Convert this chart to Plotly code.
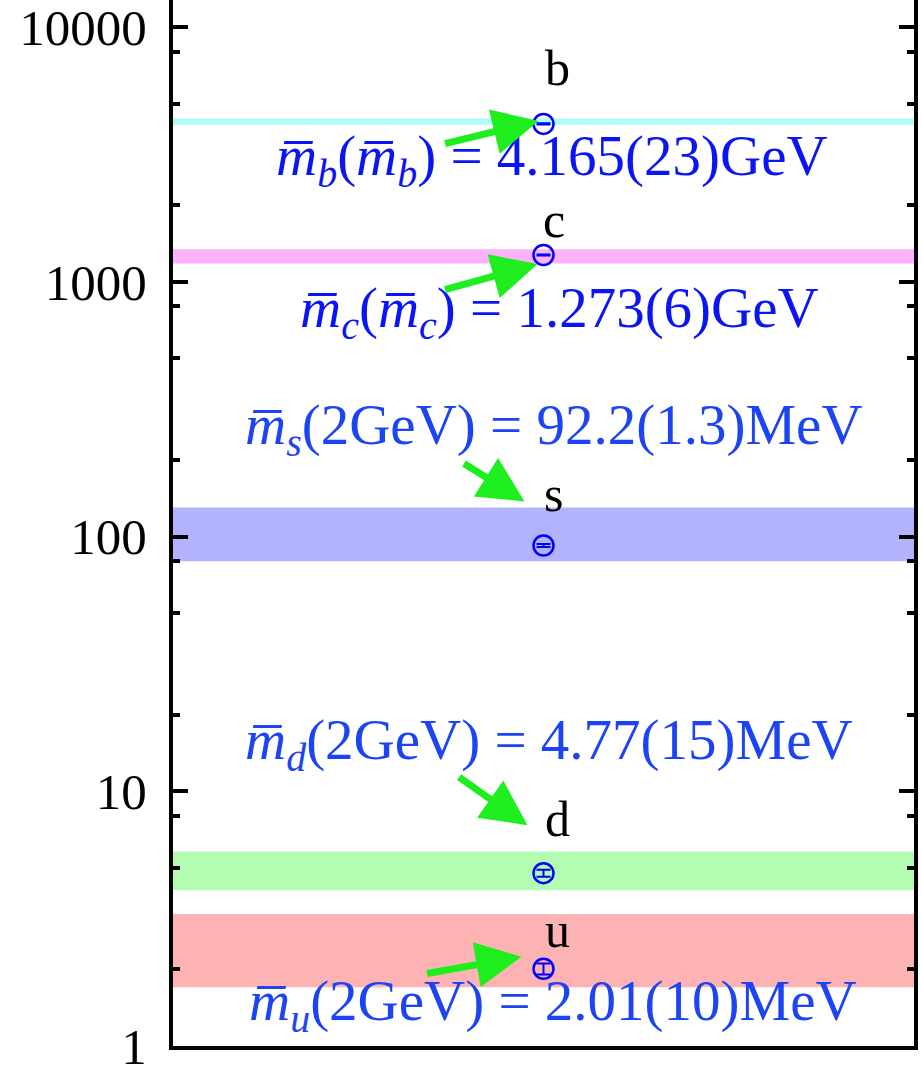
import numpy as np
import plotly.graph_objects as go

quarks = ["b", "c", "s", "d", "u"]
mass = [4165, 1273, 92.2, 4.77, 2.01]          # MeV
mass_err = [23, 6, 1.3, 0.15, 0.10]
band_lo = [4130, 1180, 80, 4.1, 1.7]
band_hi = [4370, 1340, 130, 5.8, 3.3]
band_colors = ["#aefcfc", "#fdb2fd", "#b3b3fd", "#b3fdb3", "#fdb3b3"]
texts = [
    "<i>m&#773;</i><sub><i>b</i></sub>(<i>m&#773;</i><sub><i>b</i></sub>) = 4.165(23)GeV",
    "<i>m&#773;</i><sub><i>c</i></sub>(<i>m&#773;</i><sub><i>c</i></sub>) = 1.273(6)GeV",
    "<i>m&#773;</i><sub><i>s</i></sub>(2GeV) = 92.2(1.3)MeV",
    "<i>m&#773;</i><sub><i>d</i></sub>(2GeV) = 4.77(15)MeV",
    "<i>m&#773;</i><sub><i>u</i></sub>(2GeV) = 2.01(10)MeV",
]
text_colors = ["#0a14f5", "#0a14f5", "#1c44f5", "#1c44f5", "#1c44f5"]
# label offsets (px) relative to the data point
label_shift = [(14, 56), (10, 35), (10, 51), (14, 54), (14, 39)]
text_shift = [(8, -36), (16, -57), (10, 116), (5, 129), (9, -36)]
arrow_tip_shift = [(-5, 3), (-6, -9), (-19, 44), (-16, 48), (-22, 12)]
arrow_tail = [(-95, 23), (-94, 26), (-62, -39), (-70, -49), (-96, 17)]

ytick_vals = [1, 10, 100, 1000, 10000]
ytick_text = ["1", "10", "100", "1000", "10000"]
minor_vals = [m * 10 ** k for k in range(0, 5) for m in (2, 5, 8)]

serif = "Liberation Serif, Times New Roman, serif"

fig = go.Figure()

shapes = []
for lo, hi, col in zip(band_lo, band_hi, band_colors):
    shapes.append(dict(type="rect", xref="paper", yref="y", x0=0, x1=1,
                       y0=lo, y1=hi, fillcolor=col, line=dict(width=0),
                       layer="below"))

fig.add_trace(go.Scatter(
    x=[0.5] * len(mass), y=mass, mode="markers",
    marker=dict(symbol="circle-open", size=20, color="#0000ff",
                line=dict(width=2.5, color="#0000ff")),
    error_y=dict(type="data", array=mass_err, color="#0000ff",
                 thickness=2, width=7),
    showlegend=False, hoverinfo="skip",
))

annotations = []
for i, q in enumerate(quarks):
    ly = np.log10(mass[i])
    annotations.append(dict(x=0.5, y=ly, xref="x", yref="y", text=q,
                            showarrow=False, xshift=label_shift[i][0],
                            yshift=label_shift[i][1],
                            font=dict(family=serif, size=50, color="black")))
    annotations.append(dict(x=0.5, y=ly, xref="x", yref="y", text=texts[i],
                            showarrow=False, xshift=text_shift[i][0],
                            yshift=text_shift[i][1],
                            font=dict(family=serif, size=57, color=text_colors[i])))
    annotations.append(dict(x=0.5, y=ly, xref="x", yref="y", text="",
                            showarrow=True, arrowhead=2, arrowsize=1.3,
                            arrowwidth=7, arrowcolor="#1eee1e",
                            ax=arrow_tail[i][0], ay=arrow_tail[i][1],
                            xshift=arrow_tip_shift[i][0],
                            yshift=arrow_tip_shift[i][1],
                            standoff=0))

fig.update_layout(
    width=922, height=1067,
    margin=dict(l=173, r=8, t=0, b=21, autoexpand=False),
    paper_bgcolor="white", plot_bgcolor="white",
    shapes=shapes, annotations=annotations,
    xaxis=dict(range=[0, 1], showticklabels=False, ticks="", showgrid=False,
               zeroline=False, showline=True, linecolor="black", linewidth=4,
               mirror=False, automargin=False),
    yaxis=dict(type="log", range=[0, 1046 / 254.75], tickvals=ytick_vals,
               ticktext=ytick_text, ticks="inside", ticklen=15, tickwidth=4,
               tickcolor="black", showgrid=False, zeroline=False,
               showline=True, linecolor="black", linewidth=4, mirror="ticks",
               ticklabelstandoff=12, ticklabeloverflow="allow",
               automargin=False,
               tickfont=dict(family=serif, size=51, color="black"),
               minor=dict(tickvals=minor_vals, ticks="inside", ticklen=7,
                          tickwidth=4, tickcolor="black", showgrid=False)),
)

fig.write_html(
    "out.html", config={"displayModeBar": False},
    post_script=("document.body.style.margin='0';"
                 "document.body.style.overflow='hidden';"
                 "document.documentElement.style.overflow='hidden';"))
